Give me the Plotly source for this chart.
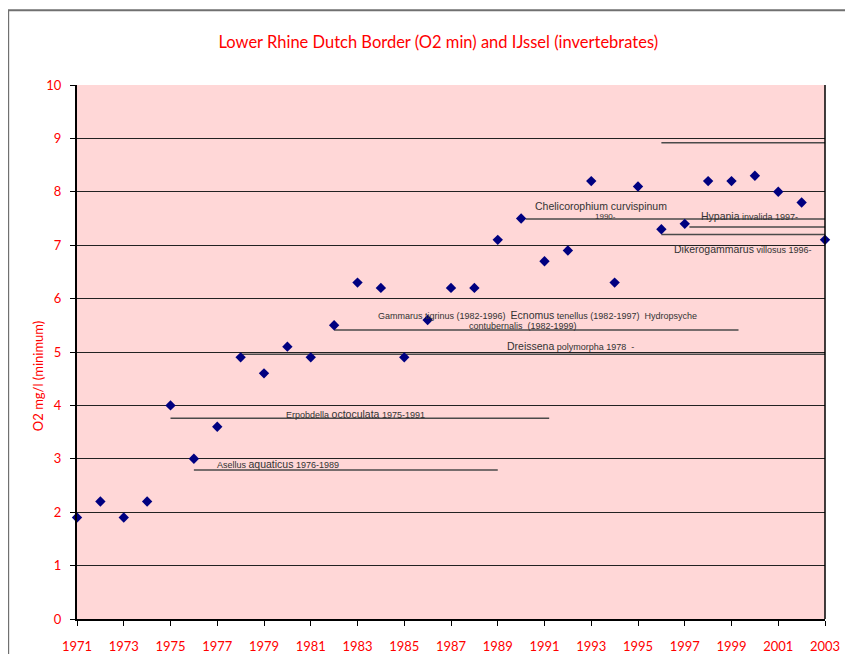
import plotly.graph_objects as go

# minimum O2 per year (mg/l)
years = list(range(1971, 2004))
o2_min = [1.9, 2.2, 1.9, 2.2, 4.0, 3.0, 3.6, 4.9, 4.6, 5.1,
          4.9, 5.5, 6.3, 6.2, 4.9, 5.6, 6.2, 6.2, 7.1, 7.5,
          6.7, 6.9, 8.2, 6.3, 8.1, 7.3, 7.4, 8.2, 8.2, 8.3,
          8.0, 7.8, 7.1]

# invertebrate occurrence bars (start year, end year, O2 level)
species = ['Asellus aquaticus', 'Erpobdella octoculata', 'Dreissena polymorpha',
           'Gammarus / Ecnomus / Hydropsyche', 'Chelicorophium curvispinum',
           'Hypania invalida', 'Dikerogammarus villosus', 'unlabelled']
sp_start = [1976, 1975, 1978, 1982, 1990.2, 1997.2, 1996, 1996]
sp_end = [1989, 1991.2, 2003, 1999.3, 2003, 2003, 2003, 2003]
sp_level = [2.79, 3.76, 4.96, 5.41, 7.49, 7.34, 7.20, 8.92]

RED = '#FF0000'
TXT = '#333333'

fig = go.Figure()

for name, x0, x1, lv in zip(species, sp_start, sp_end, sp_level):
    fig.add_trace(go.Scatter(
        x=[x0, x1], y=[lv, lv], mode='lines', name=name,
        line=dict(color='#4a4a4a', width=1.5),
        hoverinfo='skip', showlegend=False
    ))

fig.add_trace(go.Scatter(
    x=years, y=o2_min, mode='markers', name='O2 min',
    marker=dict(symbol='diamond', size=8, color='#000080'),
    cliponaxis=False, showlegend=False
))


def big(s, size=10.5):
    return f"<span style='font-size:{size}px'>{s}</span>"


labels = [
    (1976.9, 2.90, 'left', 'Asellus ' + big('aquaticus') + ' 1976-1989'),
    (1982.9, 3.84, 'center', 'Erpobdella ' + big('octoculata') + ' 1975-1991'),
    (1990.7, 5.69, 'center', 'Gammarus tigrinus (1982-1996)  ' + big('Ecnomus')
     + ' tenellus (1982-1997)  Hydropsyche'),
    (1990.1, 5.49, 'center', 'contubernalis  (1982-1999)'),
    (1989.3, 5.11, 'left', big('Dreissena') + ' polymorpha 1978  -'),
    (1993.4, 7.73, 'center', big('Chelicorophium curvispinum')),
    (1993.6, 7.53, 'center', "<span style='font-size:8px'>1990-</span>"),
    (1997.6, 7.55, 'left', big('Hypania') + ' invalida 1997-'),
    (1996.45, 6.93, 'left', big('Dikerogammarus') + ' villosus 1996-'),
]
for x, y, anchor, text in labels:
    fig.add_annotation(x=x, y=y, text=text, showarrow=False, xanchor=anchor,
                       yanchor='middle',
                       font=dict(family='Liberation Sans', size=9, color=TXT))

fig.add_annotation(x=-0.052, y=0.455, xref='paper', yref='paper',
                   text='O2 mg/l (minimum)', textangle=-90, showarrow=False,
                   xanchor='center', yanchor='middle',
                   font=dict(family='Lato', size=13, color=RED))

# outer chart border
fig.add_shape(type='rect', xref='paper', yref='paper',
              x0=-0.092, x1=1.06, y0=-0.08, y1=1.14,
              line=dict(color='#707070', width=2), layer='below')

fig.update_layout(
    width=845, height=646,
    margin=dict(l=69, r=28, t=77, b=35),
    paper_bgcolor='white', plot_bgcolor='#FFD7D7',
    title=dict(text='Lower Rhine Dutch Border (O2 min) and IJssel (invertebrates)',
               x=0.483, xref='paper', y=1 - 34 / 646, yanchor='middle',
               font=dict(family='Lato', size=16.5, color=RED)),
    font=dict(family='Lato', color=RED),
)

fig.update_xaxes(
    range=[1971, 2003], tickvals=list(range(1971, 2004, 2)),
    showgrid=False, zeroline=False, automargin=False,
    showline=True, linecolor='black', linewidth=2, mirror=False,
    ticks='outside', ticklen=5, tickcolor='black',
    tickfont=dict(family='Lato', size=13, color=RED),
    ticklabelstandoff=9
)
fig.update_yaxes(
    range=[0, 10], dtick=1, automargin=False,
    showgrid=True, gridcolor='#222222', gridwidth=1, zeroline=False,
    showline=True, linecolor='black', linewidth=2,
    ticks='outside', ticklen=5, tickcolor='black',
    tickfont=dict(family='Lato', size=13, color=RED),
    ticklabelstandoff=6
)
# right frame edge
fig.add_shape(type='line', xref='paper', yref='paper', x0=1, x1=1, y0=0, y1=1,
              line=dict(color='black', width=1.5))

fig.write_html("out.html")
